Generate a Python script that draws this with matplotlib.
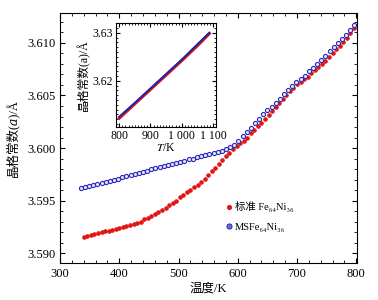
import numpy as np
import matplotlib
matplotlib.use('Agg')
import matplotlib.pyplot as plt
from matplotlib.ticker import MultipleLocator, FormatStrFormatter, FixedLocator

plt.rcParams['font.family'] = ['Liberation Serif', 'Noto Sans CJK SC', 'DejaVu Serif', 'DejaVu Sans']
plt.rcParams['mathtext.fontset'] = 'stix'

# 标准 Fe64Ni36 (red)
t_std = [340, 346, 352, 358, 364, 370, 376, 382, 388, 394, 400, 406, 412, 418, 424,
         430, 436, 442, 448, 454, 460, 466, 472, 478, 484, 490, 496, 502, 508, 514,
         520, 526, 532, 538, 544, 550, 556, 562, 568, 574, 580, 586, 592, 598, 604,
         610, 616, 622, 628, 634, 640, 646, 652, 658, 664, 670, 676, 682, 688, 694,
         700, 706, 712, 718, 724, 730, 736, 742, 748, 754, 760, 766, 772, 778, 784,
         790, 796]
a_std = [3.5915, 3.5916, 3.5917, 3.5918, 3.5919, 3.5920, 3.5921, 3.5921, 3.5922, 3.5923,
         3.5924, 3.5925, 3.5926, 3.5927, 3.5928, 3.5929, 3.5930, 3.5932, 3.5933, 3.5935,
         3.5937, 3.5939, 3.5941, 3.5943, 3.5946, 3.5948, 3.5950, 3.5953, 3.5955, 3.5958,
         3.5960, 3.5963, 3.5965, 3.5968, 3.5971, 3.5974, 3.5978, 3.5981, 3.5985, 3.5989,
         3.5992, 3.5995, 3.5999, 3.6002, 3.6005, 3.6007, 3.6010, 3.6014, 3.6017, 3.6021,
         3.6024, 3.6028, 3.6031, 3.6035, 3.6039, 3.6043, 3.6047, 3.6050, 3.6054, 3.6057,
         3.6061, 3.6063, 3.6066, 3.6068, 3.6071, 3.6074, 3.6077, 3.6080, 3.6083, 3.6087,
         3.6090, 3.6094, 3.6097, 3.6101, 3.6105, 3.6109, 3.6114]

# MSFe64Ni36 (blue)
t_ms = [335, 342, 349, 356, 363, 370, 377, 384, 391, 398, 405, 412, 419, 426, 433,
        440, 447, 454, 461, 468, 475, 482, 489, 496, 503, 510, 517, 524, 531, 538,
        545, 552, 559, 566, 573, 580, 587, 594, 601, 608, 615, 622, 629, 636, 643,
        650, 657, 664, 671, 678, 685, 692, 699, 706, 713, 720, 727, 734, 741, 748,
        755, 762, 769, 776, 783, 790, 797]
a_ms = [3.5962, 3.5963, 3.5964, 3.5965, 3.5966, 3.5967, 3.5968, 3.5969, 3.5970, 3.5971,
        3.5972, 3.5973, 3.5974, 3.5975, 3.5976, 3.5977, 3.5978, 3.5980, 3.5981, 3.5982,
        3.5983, 3.5984, 3.5985, 3.5986, 3.5987, 3.5988, 3.5990, 3.5990, 3.5991, 3.5992,
        3.5993, 3.5994, 3.5995, 3.5996, 3.5997, 3.5999, 3.6001, 3.6003, 3.6007, 3.6011,
        3.6015, 3.6019, 3.6024, 3.6028, 3.6032, 3.6036, 3.6039, 3.6043, 3.6047, 3.6051,
        3.6055, 3.6059, 3.6063, 3.6066, 3.6069, 3.6073, 3.6076, 3.6080, 3.6084, 3.6088,
        3.6092, 3.6096, 3.6100, 3.6104, 3.6108, 3.6112, 3.6117]

# inset (high temperature)
t_hi = [800, 850, 900, 950, 1000, 1050, 1088]
a_hi_std = [3.6122, 3.6152, 3.6182, 3.6212, 3.6242, 3.6273, 3.6298]
a_hi_ms = [3.6125, 3.6154, 3.6184, 3.6214, 3.6244, 3.6276, 3.6300]

red = '#e01414'
blue = '#2c2cb8'

fig = plt.figure(figsize=(3.78, 3.0), dpi=100)
ax = fig.add_axes([0.159, 0.123, 0.785, 0.834])

ax.plot(t_std, a_std, 'o', color=red, ms=2.7, mec=red, mew=0.5,
        label='标准 Fe₆₄Ni₃₆')
ax.plot(t_ms, a_ms, 'o', color=blue, ms=3.0, mfc='#e4e4f8', mec=blue, mew=0.8,
        label='MSFe₆₄Ni₃₆')

ax.set_xlim(300, 801)
ax.set_ylim(3.58905, 3.61286)
ax.xaxis.set_major_locator(MultipleLocator(100))
ax.xaxis.set_minor_locator(MultipleLocator(20))
ax.yaxis.set_major_locator(MultipleLocator(0.005))
ax.yaxis.set_minor_locator(MultipleLocator(0.001))
ax.yaxis.set_major_formatter(FormatStrFormatter('%.3f'))
ax.tick_params(which='both', direction='in', top=True, right=True, labelsize=9)
ax.tick_params(which='major', length=3.5)
ax.tick_params(which='minor', length=2)
ax.set_xlabel('温度/K', fontsize=9, labelpad=2)
ax.set_ylabel('晶格常数(\U0001D44E)/Å', fontsize=9, labelpad=6)

leg = ax.legend(loc='upper left', bbox_to_anchor=(0.52, 0.285), frameon=False,
                fontsize=7.5, handletextpad=0.1, handlelength=1.0,
                labelspacing=1.0, markerscale=1.2)
leg.legend_handles[1].set_markerfacecolor('#7070d0')

ins = fig.add_axes([0.307, 0.577, 0.265, 0.346])
ins.plot(t_hi, a_hi_std, '-', color=red, lw=2.2)
ins.plot(t_hi, a_hi_ms, '-', color='#2020b0', lw=1.4)
ins.set_xlim(790, 1110)
ins.set_ylim(3.6104, 3.632)
ins.xaxis.set_major_locator(FixedLocator([800, 900, 1000, 1100]))
ins.set_xticklabels(['800', '900', '1 000', '1 100'])
ins.xaxis.set_minor_locator(MultipleLocator(10))
ins.yaxis.set_major_locator(FixedLocator([3.62, 3.63]))
ins.yaxis.set_major_formatter(FormatStrFormatter('%.2f'))
ins.yaxis.set_minor_locator(MultipleLocator(0.001))
ins.tick_params(which='both', direction='in', top=True, right=True, labelsize=8.5, pad=2)
ins.tick_params(which='major', length=3)
ins.tick_params(which='minor', length=1.5)
ins.set_xlabel('$T$/K', fontsize=8.5, labelpad=0)
ins.set_ylabel('晶格常数(a)/Å', fontsize=8.5, labelpad=2)

fig.savefig('out.png', dpi=100)
